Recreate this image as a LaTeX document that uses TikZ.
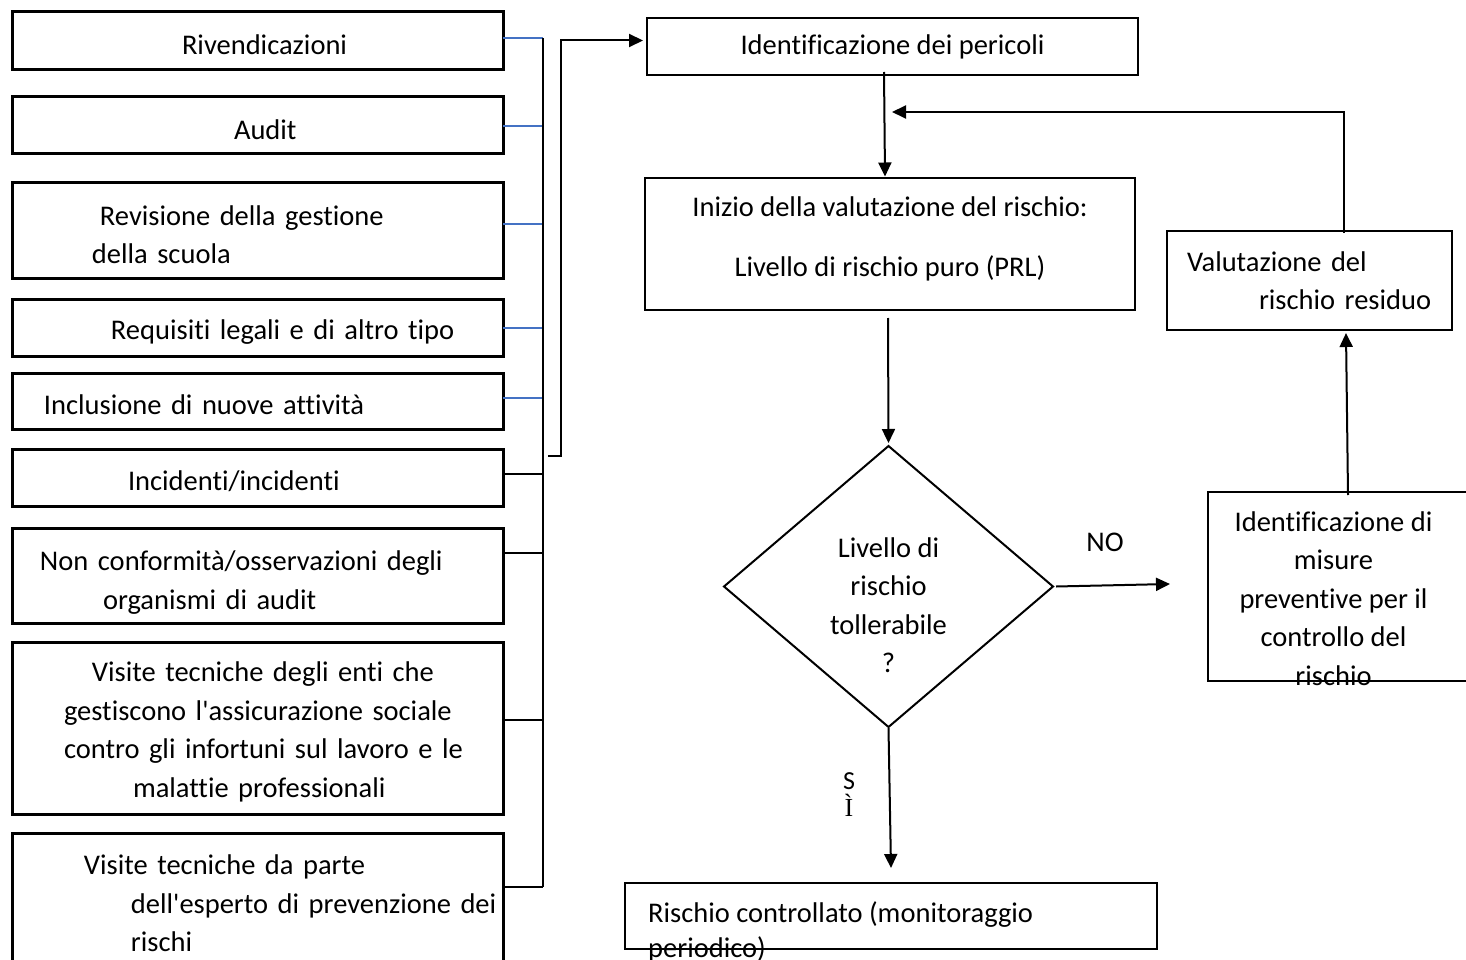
\documentclass[tikz,border=0pt]{standalone}
\usepackage{fontspec}
\newfontfamily\calibri{Carlito}[Ligatures={NoCommon}]
\newfontfamily\serifletter{Liberation Serif}
\usepackage{tikz}
\usetikzlibrary{calc, arrows.meta, positioning, shapes.geometric}
\definecolor{linkblue}{RGB}{68,114,196}

\begin{document}
\begin{tikzpicture}[x=1pt, y=-1pt, font=\calibri\fontsize{28.5}{38.5}\selectfont, >={Triangle[length=14pt,width=13pt]}]
	\tikzstyle{source} = [rectangle, draw, line width=3pt, outer sep=0pt, inner sep=0pt, minimum width=491pt, text width=491pt, align=left, execute at begin node={\rule{0pt}{28pt}}]
	\tikzstyle{block} = [rectangle, draw, line width=2.5pt, outer sep=0pt, inner sep=0pt, align=center]
	\tikzstyle{decision} = [diamond, draw, line width=2pt, outer sep=0pt, inner sep=0pt, aspect=1.17, minimum width=329pt, minimum height=281pt, align=center]

	\useasboundingbox (0,0) rectangle (1466,960);
	\fill[white] (0,0) rectangle (1466,960);

	% left column: where the hazards come from
	\node [source, minimum height=58pt] (riv) at (257.5,41) {\hspace*{170pt}Rivendicazioni};
	\node [source, minimum height=57pt, below=27pt of riv] (audit) {\hspace*{222pt}Audit};
	\node [source, minimum height=95pt, below=29pt of audit] (revis) {\hspace*{88pt}Revisione della gestione\\\hspace*{80pt}della scuola};
	\node [source, minimum height=57pt, below=21pt of revis] (requis) {\hspace*{99pt}Requisiti legali e di altro tipo};
	\node [source, minimum height=56pt, below=17pt of requis] (inclus) {\hspace*{32pt}Inclusione di nuove attività};
	\node [source, minimum height=57pt, below=20pt of inclus] (incid) {\hspace*{116pt}Incidenti/incidenti};
	\node [source, minimum height=95pt, below=22pt of incid] (nonconf) {\rule{0pt}{34pt}\hspace*{28pt}Non conformità/osservazioni degli\\\hspace*{91pt}organismi di audit};
	\node [source, minimum height=172pt, below=19pt of nonconf] (visenti) {\hspace*{80pt}Visite tecniche degli enti che\\\hspace*{52pt}gestiscono l'assicurazione sociale\\\hspace*{52pt}contro gli infortuni sul lavoro e le\\\hspace*{121pt}malattie professionali};
	\node [source, minimum height=140pt, below=19pt of visenti] (visrspp) {\hspace*{72pt}Visite tecniche da parte\\\hspace*{119pt}dell'esperto di prevenzione dei\\\hspace*{119pt}rischi\rule[-8pt]{0pt}{8pt}};

	% right part: the assessment loop
	\node [block, minimum width=491pt, minimum height=57pt] (ident) at (892.5,46.5) {Identificazione dei pericoli};
	\node [block, minimum width=490pt, minimum height=132pt] (inizio) at (890,244) {Inizio della valutazione del rischio:\\[22pt]Livello di rischio puro (PRL)\rule[-15pt]{0pt}{15pt}};
	\node [block, minimum width=285pt, minimum height=99pt, text width=285pt, align=left] (valut) at (1309.5,280.5) {\hspace*{20pt}Valutazione del\\\hspace*{92pt}rischio residuo};
	\node [decision] (tol) at (888.5,586.5) {\rule{0pt}{19pt}\\Livello di\\rischio\\tollerabile\\?};
	\node [block, minimum width=264pt, minimum height=189pt] (misure) at (1340,586.5) {};
	\node [align=center, inner sep=0pt] (misure text) at (1333.5,598.5) {Identificazione di\\misure\\preventive per il\\controllo del\\rischio};
	\node [block, minimum width=532pt, minimum height=66pt] (risc) at (891,916) {};
	\node [align=left, inner sep=0pt, anchor=north west, font=\calibri\fontsize{28.5}{35}\selectfont] (risc text) at (648,901) {Rischio controllato (monitoraggio\\periodico)};

	\node (no label) at (1105,542) {NO};
	\node [align=center, inner sep=0pt, font=\calibri\fontsize{26}{27}\selectfont] (si label) at (849,795) {S\\{\serifletter Ì}};

	\coordinate (collector top) at (543,38);
	\coordinate (collector bottom) at (543,887);
	\coordinate (collector out) at (548,456);
	\coordinate (loop in) at (892,112);

	%branches into the collector
	\tikzstyle{every path}=[draw, linkblue, line width=1.5pt]
		\foreach \src/\y in {riv/38, audit/126, revis/224, requis/328, inclus/398}
			\path (\src.east |- 0,\y) -- (collector top |- 0,\y);
	\tikzstyle{every path}=[draw, black, line width=2pt]
		\foreach \src/\y in {incid/474, nonconf/553, visenti/720, visrspp/887}
			\path (\src.east |- 0,\y) -- (collector top |- 0,\y);
		\path (collector top) -- (collector bottom);

	%flow arrows
	\tikzstyle{every path}=[draw, black, line width=2pt, ->]
		\path (collector out) -- ++(13,0) |- ([xshift=-4pt,yshift=6pt]ident.west);
		\path ([xshift=-8.5pt,yshift=3pt]ident.south) -- ([xshift=-5pt,yshift=1.5pt]inizio.north);
		\path ([xshift=-2pt,yshift=-8pt]inizio.south) -- ([yshift=3pt]tol.north);
		\path ([xshift=3pt]tol.east) -- ([xshift=-38pt,yshift=2.5pt]misure.west);
		\path ([xshift=8pt,yshift=-3pt]misure.north) -- ([xshift=36.5pt,yshift=-3pt]valut.south);
		\path ([xshift=34.5pt,yshift=-2pt]valut.north) |- (loop in);
		\path ([yshift=-1pt]tol.south) -- ([yshift=15pt]risc.north);
\end{tikzpicture}
\end{document}
